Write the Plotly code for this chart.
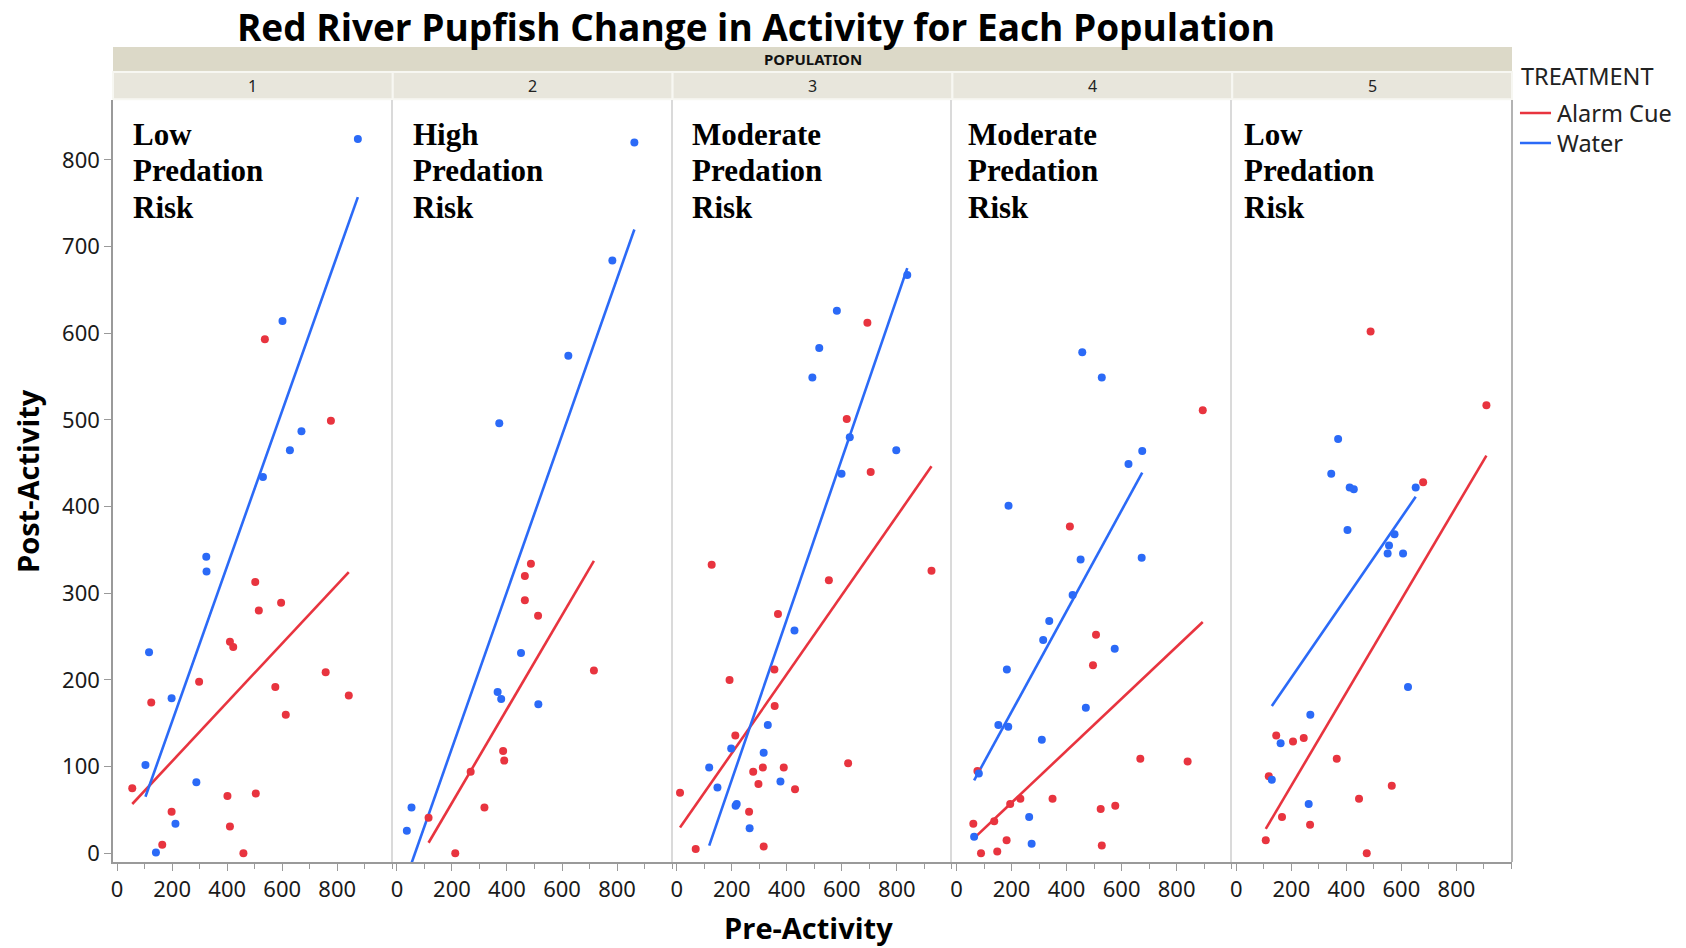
import plotly.graph_objects as go
from plotly.subplots import make_subplots

# ---------------- data ----------------
populations = ["1", "2", "3", "4", "5"]
risk_lines = [["Low", "Predation", "Risk"], ["High", "Predation", "Risk"],
              ["Moderate", "Predation", "Risk"], ["Moderate", "Predation", "Risk"],
              ["Low", "Predation", "Risk"]]
treatments = ["Alarm Cue", "Water"]

# Population 1
p1_water_pre = [875, 601, 670, 628, 530, 324, 325, 116, 198, 103, 288, 212, 141]
p1_water_post = [824, 614, 487, 465, 434, 342, 325, 232, 179, 102, 82, 34, 1]
p1_alarm_pre = [537, 777, 502, 596, 515, 410, 422, 298, 758, 575, 842, 124, 613, 55, 401, 504, 198, 410, 164, 459]
p1_alarm_post = [593, 499, 313, 289, 280, 244, 238, 198, 209, 192, 182, 174, 160, 75, 66, 69, 48, 31, 10, 0]

# Population 2
p2_water_pre = [863, 783, 623, 372, 451, 366, 379, 514, 53, 36]
p2_water_post = [820, 684, 574, 496, 231, 186, 178, 172, 53, 26]
p2_alarm_pre = [487, 465, 465, 513, 716, 386, 390, 268, 318, 115, 212]
p2_alarm_post = [334, 320, 292, 274, 211, 118, 107, 94, 53, 41, 0]

# Population 3
p3_water_pre = [838, 582, 518, 493, 629, 798, 599, 428, 331, 198, 316, 118, 377, 148, 214, 218, 265]
p3_water_post = [667, 626, 583, 549, 480, 465, 438, 257, 148, 121, 116, 99, 83, 76, 55, 57, 29]
p3_alarm_pre = [693, 618, 705, 127, 926, 553, 368, 355, 192, 356, 213, 623, 313, 389, 278, 297, 12, 430, 263, 316, 69]
p3_alarm_post = [612, 501, 440, 333, 326, 315, 276, 212, 200, 170, 136, 104, 99, 99, 94, 80, 70, 74, 48, 8, 5]

# Population 4
p4_water_pre = [457, 528, 675, 625, 189, 673, 451, 422, 337, 315, 575, 183, 470, 152, 188, 310, 81, 264, 64, 273]
p4_water_post = [578, 549, 464, 449, 401, 341, 339, 298, 268, 246, 236, 212, 168, 148, 146, 131, 92, 42, 19, 11]
p4_alarm_pre = [895, 412, 507, 496, 668, 840, 76, 349, 232, 195, 577, 524, 61, 137, 182, 528, 89, 148]
p4_alarm_post = [511, 377, 252, 217, 109, 106, 95, 63, 63, 57, 55, 51, 34, 37, 15, 9, 0, 2]

# Population 5
p5_water_pre = [370, 345, 412, 427, 652, 404, 575, 555, 550, 606, 624, 269, 161, 129, 263]
p5_water_post = [478, 438, 422, 420, 422, 373, 368, 355, 346, 346, 192, 160, 127, 85, 57]
p5_alarm_pre = [488, 909, 679, 145, 206, 245, 365, 118, 565, 446, 166, 268, 107, 474]
p5_alarm_post = [602, 517, 428, 136, 129, 133, 109, 89, 78, 63, 42, 33, 15, 0]

# linear fits (slope, intercept)
alarm_fit_slope = [0.340, 0.541, 0.456, 0.300, 0.537]
alarm_fit_intercept = [38.2, -50.0, 24.2, -1.6, -29.3]
water_fit_slope = [0.896, 0.9025, 0.9254, 0.581, 0.4614]
water_fit_intercept = [-27.0, -59.2, -100.4, 47.0, 110.5]

x_ticks = [0, 200, 400, 600, 800]
y_ticks = [0, 100, 200, 300, 400, 500, 600, 700, 800]

water_pre = [p1_water_pre, p2_water_pre, p3_water_pre, p4_water_pre, p5_water_pre]
water_post = [p1_water_post, p2_water_post, p3_water_post, p4_water_post, p5_water_post]
alarm_pre = [p1_alarm_pre, p2_alarm_pre, p3_alarm_pre, p4_alarm_pre, p5_alarm_pre]
alarm_post = [p1_alarm_post, p2_alarm_post, p3_alarm_post, p4_alarm_post, p5_alarm_post]

RED = "#E8343F"
BLUE = "#2B6AF7"

fig = make_subplots(rows=1, cols=5, shared_yaxes=True, horizontal_spacing=0)

for i in range(5):
    col = i + 1
    for pre, slope, icpt, color, name in [
        (alarm_pre[i], alarm_fit_slope[i], alarm_fit_intercept[i], RED, treatments[0]),
        (water_pre[i], water_fit_slope[i], water_fit_intercept[i], BLUE, treatments[1]),
    ]:
        xs = [min(pre), max(pre)]
        ys = [slope * v + icpt for v in xs]
        fig.add_trace(go.Scatter(x=xs, y=ys, mode="lines", line=dict(color=color, width=2.6),
                                 name=name, showlegend=False, hoverinfo="skip"), row=1, col=col)
    fig.add_trace(go.Scatter(x=alarm_pre[i], y=alarm_post[i], mode="markers",
                             marker=dict(color=RED, size=8), name=treatments[0],
                             showlegend=False), row=1, col=col)
    fig.add_trace(go.Scatter(x=water_pre[i], y=water_post[i], mode="markers",
                             marker=dict(color=BLUE, size=8), name=treatments[1],
                             showlegend=False), row=1, col=col)

AX_FONT = dict(family="Noto Sans, Open Sans, sans-serif", size=22, color="#1a1a1a")

for i in range(5):
    col = i + 1
    fig.update_xaxes(range=[-15, 1002], tickvals=x_ticks, ticks="outside", ticklen=7,
                     tickcolor="#9a9a9a", tickwidth=1.2,
                     minor=dict(dtick=100, tick0=0, ticks="outside", ticklen=5, tickcolor="#9a9a9a"),
                     showline=True, linecolor="#9a9a9a", linewidth=1.5,
                     showgrid=False, zeroline=False, tickfont=AX_FONT, row=1, col=col)
    fig.update_yaxes(range=[-10, 869], tickvals=y_ticks, showgrid=False, zeroline=False,
                     showline=True, linewidth=1.5,
                     linecolor="#9a9a9a" if i == 0 else "#dadada",
                     ticks="outside" if i == 0 else "", ticklen=7, tickcolor="#9a9a9a",
                     tickfont=AX_FONT, row=1, col=col)

shapes = []
shapes.append(dict(type="line", xref="paper", yref="paper", x0=1, x1=1, y0=0, y1=1,
                   line=dict(color="#9a9a9a", width=1.5)))
shapes.append(dict(type="rect", xref="paper", yref="paper", x0=0, x1=1, y0=1.0367, y1=1.0696,
                   fillcolor="#DCD9C8", line=dict(width=0), layer="below"))
annotations = [dict(text="<b>POPULATION</b>", xref="paper", yref="paper", x=0.5, y=1.0532,
                    xanchor="center", yanchor="middle", showarrow=False,
                    font=dict(family="Noto Sans, sans-serif", size=15, color="#111"))]
LINE_PX = 36.5
for i in range(5):
    shapes.append(dict(type="rect", xref="paper", yref="paper", x0=i * 0.2, x1=(i + 1) * 0.2,
                       y0=1.001, y1=1.0367, fillcolor="#E8E6DC", line=dict(color="#F7F7F2", width=2),
                       layer="below"))
    annotations.append(dict(text=populations[i], xref="paper", yref="paper", x=i * 0.2 + 0.1,
                            y=1.0185, xanchor="center", yanchor="middle", showarrow=False,
                            font=dict(family="Noto Sans, sans-serif", size=16, color="#222")))
    xd = "x domain" if i == 0 else f"x{i + 1} domain"
    yd = "y domain" if i == 0 else f"y{i + 1} domain"
    offs = [0.066, 0.064, 0.062, 0.048, 0.036][i]
    for k, word in enumerate(risk_lines[i]):
        annotations.append(dict(text="<b>" + word + "</b>", xref=xd, yref=yd, x=offs, y=1,
                                yshift=-(34 + k * LINE_PX),
                                xanchor="left", yanchor="middle", align="left", showarrow=False,
                                font=dict(family="Liberation Serif, Times New Roman, serif", size=31,
                                          color="#000")))

# legend (TREATMENT)
LEG_FONT = dict(family="Noto Sans, sans-serif", size=23.5, color="#222")
annotations.append(dict(text="TREATMENT", xref="paper", yref="paper", x=1.0057, y=1.0315,
                        xanchor="left", yanchor="middle", showarrow=False, borderpad=0, font=LEG_FONT))
for name, color, yy in [(treatments[0], RED, 0.9829), (treatments[1], BLUE, 0.9436)]:
    shapes.append(dict(type="line", xref="paper", yref="paper", x0=1.0057, x1=1.0279, y0=yy, y1=yy,
                       line=dict(color=color, width=2.6)))
    annotations.append(dict(text=name, xref="paper", yref="paper", x=1.0315, y=yy,
                            xanchor="left", yanchor="middle", showarrow=False, borderpad=0,
                            font=LEG_FONT))

annotations.append(dict(text="<b>Post-Activity</b>", xref="paper", yref="paper", x=-0.0615, y=0.5,
                        xanchor="center", yanchor="middle", textangle=-90, showarrow=False,
                        font=dict(family="Open Sans, sans-serif", size=29, color="#000")))
annotations.append(dict(text="<b>Pre-Activity</b>", xref="paper", yref="paper", x=0.4968, y=-0.086,
                        xanchor="center", yanchor="middle", showarrow=False,
                        font=dict(family="Open Sans, sans-serif", size=29, color="#000")))

W, H = 1670, 940
fig.update_layout(
    width=W, height=H,
    margin=dict(l=105, r=W - 1504, t=92, b=H - 854),
    paper_bgcolor="white", plot_bgcolor="white",
    showlegend=False,
    title=dict(text="<b>Red River Pupfish Change in Activity for Each Population</b>",
               x=748 / W, xanchor="center", y=1 - 7 / H, yanchor="top", yref="container",
               font=dict(family="Open Sans, sans-serif", size=37, color="#000")),
    shapes=shapes, annotations=annotations,
)

fig.write_html("out.html")
